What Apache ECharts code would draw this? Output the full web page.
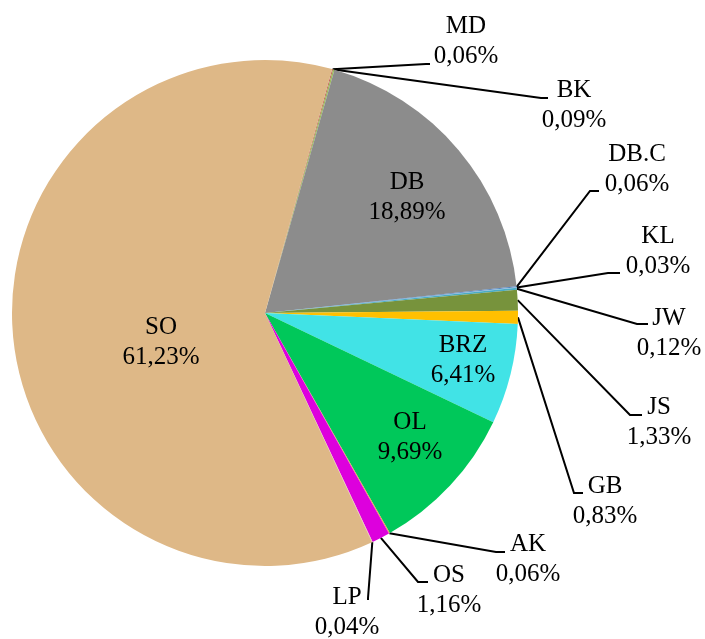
<!DOCTYPE html>
<html>
<head>
<meta charset="utf-8">
<script src="https://cdn.jsdelivr.net/npm/echarts@6/dist/echarts.min.js"></script>
<style>
  html, body { margin: 0; padding: 0; background: #fff; }
  #chart01 { width: 705px; height: 639px; }
</style>
</head>
<body>
<div id="chart01"></div>
<script>
// 分类与占比 (%)
var names = ["MD", "BK", "DB", "DB.C", "KL", "JW", "JS", "GB", "BRZ", "OL", "AK", "OS", "LP", "SO"];
var values = [0.06, 0.09, 18.89, 0.06, 0.03, 0.12, 1.33, 0.83, 6.41, 9.69, 0.06, 1.16, 0.04, 61.23];
var colors = ["#C0504D", "#9BBB59", "#8C8C8C", "#4F81BD", "#8DB4E2", "#4BACC6", "#77933C", "#FFC000",
              "#41E3E6", "#00C85A", "#F79646", "#DD00DD", "#E6B9B8", "#DEB887"];
// 标签放在扇区里面的
var insideNames = ["DB", "BRZ", "OL", "SO"];

// 标签位置 (中心) 和引导线的拐点/终点
var labelPos = {
    "MD":   { x: 466, y: 41,  elbow: [426, 64],  end: [430, 64] },
    "BK":   { x: 574, y: 105, elbow: [541, 98],  end: [548, 98] },
    "DB":   { x: 407, y: 197 },
    "DB.C": { x: 637, y: 169, elbow: [590, 191], end: [599, 191] },
    "KL":   { x: 658, y: 251, elbow: [608, 273], end: [620, 273] },
    "JW":   { x: 669, y: 333, elbow: [637, 324], end: [648, 324] },
    "JS":   { x: 659, y: 422, elbow: [630, 415], end: [642, 415] },
    "GB":   { x: 605, y: 501, elbow: [574, 493], end: [583, 493] },
    "BRZ":  { x: 463, y: 360 },
    "OL":   { x: 410, y: 437 },
    "AK":   { x: 528, y: 559, elbow: [496, 552], end: [505, 552] },
    "OS":   { x: 449, y: 590, elbow: [418, 582], end: [428, 582] },
    "LP":   { x: 347, y: 612, elbow: [368, 598], end: [368, 600] },
    "SO":   { x: 161, y: 342 }
};

var pieData = names.map(function (n, i) {
    var inside = insideNames.indexOf(n) >= 0;
    return {
        name: n,
        value: values[i],
        itemStyle: { color: colors[i] },
        label: { position: inside ? "inside" : "outside" },
        labelLine: { show: !inside }
    };
});

var myChart01 = echarts.init(document.getElementById('chart01'));
var option = {
    animation: false,
    series: [
        {
            type: "pie",
            center: [265, 313],
            radius: [0, 253],
            startAngle: 74.6,
            clockwise: true,
            avoidLabelOverlap: false,
            minAngle: 0,
            itemStyle: { borderWidth: 0 },
            label: {
                show: true,
                color: "#000",
                fontFamily: "Liberation Serif",
                fontSize: 25,
                lineHeight: 30,
                align: "center",
                formatter: function (p) {
                    return p.name + "\n" + p.value.toFixed(2).replace(".", ",") + "%";
                }
            },
            labelLine: {
                lineStyle: { color: "#000", width: 2 },
                length: 10,
                length2: 8
            },
            emphasis: { disabled: true },
            labelLayout: function (params) {
                var n = names[params.dataIndex];
                var pos = labelPos[n];
                var res = { x: pos.x, y: pos.y, align: "center", verticalAlign: "middle", moveOverlap: null };
                if (pos.elbow && params.labelLinePoints) {
                    res.labelLinePoints = [params.labelLinePoints[0], pos.elbow, pos.end];
                }
                return res;
            },
            data: pieData
        }
    ]
};
myChart01.setOption(option);
</script>
</body>
</html>
